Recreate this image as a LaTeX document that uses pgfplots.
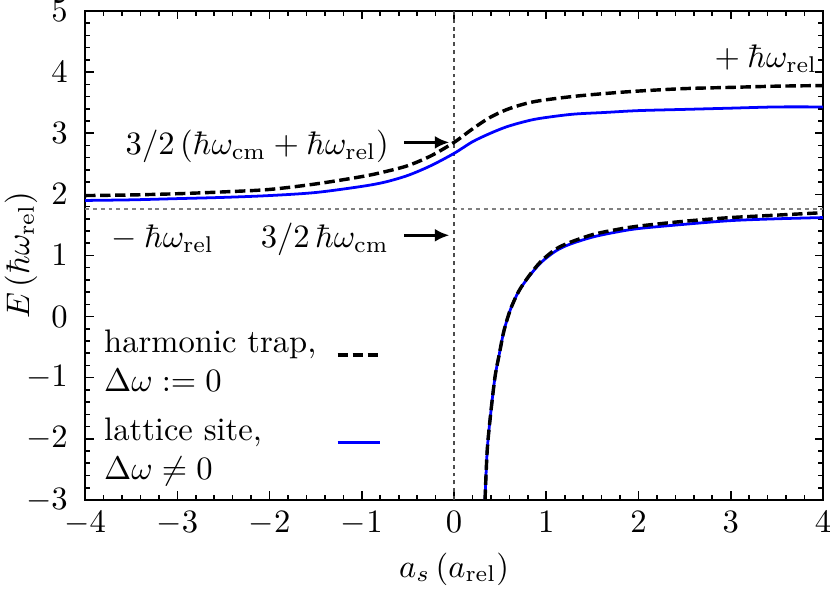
\documentclass[border=0pt]{standalone}
\usepackage{pgfplots}
\pgfplotsset{compat=1.18}
\usetikzlibrary{arrows.meta}
\begin{document}
\begin{tikzpicture}
\begin{axis}[
  name=ax,
  width=226.4pt, height=150pt, scale only axis,
  xmin=-4, xmax=4, ymin=-3, ymax=5,
  xtick distance=1, ytick distance=1, minor tick num=4,
  tick align=inside,
  major tick length=2.6pt, minor tick length=1.4pt,
  axis line style={line width=0.6pt},
  every tick/.style={line width=0.5pt, black},
  yticklabel style={xshift=-1.8pt},
  xlabel={$a_s\,(a_{\mathrm{rel}})$},
  ylabel={$E\,(\hbar\omega_{\mathrm{rel}})$},
  xlabel style={at={(axis description cs:0.5,-0.141)}, anchor=center},
  ylabel style={at={(axis description cs:-0.087,0.5)}, anchor=center, inner sep=0pt},
  legend plot pos=right,
  legend cell align=left,
  legend style={draw=none, fill=none, at={(rel axis cs:0.003,0.004)}, anchor=south west,
    cells={align=left}, row sep=2.5pt, column sep=4pt},
  legend image code/.code={\draw[yshift=2.5pt] (0cm,0cm) -- (0.46cm,0cm);},
  clip=true,
]
% guide lines
\draw[gray, line width=0.4pt, dash pattern=on 1.2pt off 1.2pt] (axis cs:-4,1.76) -- (axis cs:4,1.76);
\draw[black!70, line width=0.4pt, dash pattern=on 1.2pt off 1.2pt] (axis cs:0,-3) -- (axis cs:0,5);

% harmonic trap, upper branch
\addplot[black, line width=1.05pt, dash pattern=on 3.2pt off 1.4pt, smooth] coordinates {
(-4,1.98) (-3.5,1.99) (-3,2.01) (-2.5,2.04) (-2,2.08) (-1.5,2.17) (-1.0,2.29)
(-0.75,2.37) (-0.5,2.47) (-0.25,2.63) (0,2.85) (0.2,3.07) (0.38,3.25) (0.56,3.38)
(0.74,3.47) (0.92,3.53) (1.28,3.60) (1.64,3.65) (2.0,3.69) (2.5,3.73) (3.0,3.75)
(3.5,3.77) (4.0,3.78)
};
\addlegendentry{harmonic trap,\\$\Delta\omega := 0$}
% lattice site, upper branch
\addplot[blue, line width=0.85pt, smooth] coordinates {
(-4,1.90) (-3.5,1.91) (-3,1.93) (-2.5,1.95) (-2,1.98) (-1.5,2.03) (-1.0,2.13)
(-0.75,2.20) (-0.5,2.31) (-0.25,2.47) (0,2.67) (0.2,2.86) (0.38,2.99) (0.56,3.10)
(0.74,3.18) (0.92,3.24) (1.28,3.31) (1.64,3.34) (2.0,3.37) (2.5,3.39) (3.0,3.41)
(3.5,3.43) (4.0,3.43)
};
\addlegendentry{lattice site,\\$\Delta\omega \neq 0$}
% lattice site, lower branch
\addplot[blue, line width=0.85pt, smooth, forget plot] coordinates {
(0.336,-3.0) (0.36,-2.18) (0.40,-1.55) (0.445,-0.98) (0.49,-0.62) (0.54,-0.24)
(0.61,0.11) (0.70,0.41) (0.81,0.65) (0.94,0.88) (1.10,1.07) (1.25,1.18) (1.5,1.30)
(1.75,1.38) (2.0,1.44) (2.5,1.51) (3.0,1.57) (3.5,1.60) (4.0,1.62)
};
% harmonic trap, lower branch
\addplot[black, line width=1.05pt, dash pattern=on 3.2pt off 1.4pt, smooth, forget plot] coordinates {
(0.336,-3.0) (0.36,-2.18) (0.40,-1.55) (0.445,-0.98) (0.49,-0.62) (0.54,-0.24)
(0.61,0.11) (0.70,0.41) (0.81,0.66) (0.94,0.90) (1.10,1.10) (1.25,1.21) (1.5,1.34)
(1.75,1.42) (2.0,1.48) (2.5,1.56) (3.0,1.62) (3.5,1.66) (4.0,1.70)
};

% annotations
\node[anchor=base east, inner sep=0pt] at (axis cs:-0.70,2.65) {$3/2\,(\hbar\omega_{\mathrm{cm}} + \hbar\omega_{\mathrm{rel}})$};
\node[anchor=base east, inner sep=0pt] at (axis cs:-0.70,1.13) {$3/2\,\hbar\omega_{\mathrm{cm}}$};
\node[anchor=base west, inner sep=0pt] at (axis cs:-3.80,1.13) {${}-\hbar\omega_{\mathrm{rel}}$};
\node[anchor=base west, inner sep=0pt] at (axis cs:2.74,4.07) {${}+\hbar\omega_{\mathrm{rel}}$};
\draw[line width=1pt, -{Latex[length=4.5pt,width=4pt]}] (axis cs:-0.54,2.85) -- (axis cs:-0.05,2.85);
\draw[line width=1pt, -{Latex[length=4.5pt,width=4pt]}] (axis cs:-0.54,1.33) -- (axis cs:-0.05,1.33);
\end{axis}
\pgfresetboundingbox
\path[use as bounding box] ([xshift=-26.1pt,yshift=-29.4pt]ax.south west) rectangle ([xshift=2.15pt,yshift=3.37pt]ax.north east);
\end{tikzpicture}
\end{document}
